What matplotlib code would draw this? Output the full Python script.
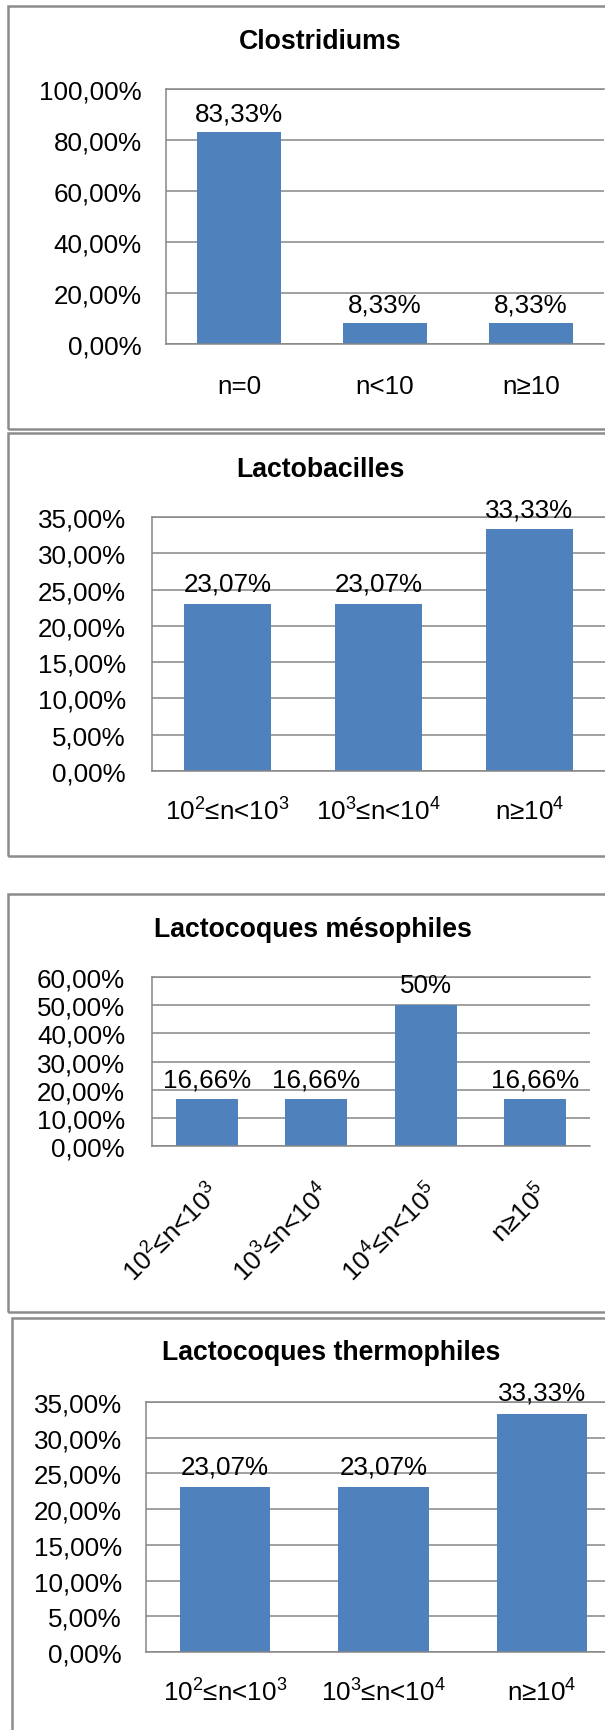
import matplotlib
matplotlib.use("Agg")
import matplotlib.pyplot as plt
from matplotlib.patches import Rectangle

plt.rcParams["font.family"] = ["Liberation Sans", "DejaVu Sans"]
plt.rcParams["mathtext.fontset"] = "custom"
plt.rcParams["mathtext.rm"] = "Liberation Sans"
plt.rcParams["mathtext.it"] = "Liberation Sans:italic"
plt.rcParams["mathtext.bf"] = "Liberation Sans:bold"
plt.rcParams["mathtext.default"] = "regular"

# ---- data -------------------------------------------------------------
clos_title = "Clostridiums"
clos_cats = ["n=0", "n<10", "n≥10"]
clos_vals = [83.33, 8.33, 8.33]
clos_yticks = [0, 20, 40, 60, 80, 100]

lacto_title = "Lactobacilles"
lacto_cats = [r"10$^{2}$≤n<10$^{3}$", r"10$^{3}$≤n<10$^{4}$", r"n≥10$^{4}$"]
lacto_vals = [23.07, 23.07, 33.33]
lacto_yticks = [0, 5, 10, 15, 20, 25, 30, 35]

meso_title = "Lactocoques mésophiles"
meso_cats = [r"10$^{2}$≤n<10$^{3}$", r"10$^{3}$≤n<10$^{4}$",
             r"10$^{4}$≤n<10$^{5}$", r"n≥10$^{5}$"]
meso_vals = [16.66, 16.66, 50, 16.66]
meso_yticks = [0, 10, 20, 30, 40, 50, 60]

thermo_title = "Lactocoques thermophiles"
thermo_cats = [r"10$^{2}$≤n<10$^{3}$", r"10$^{3}$≤n<10$^{4}$", r"n≥10$^{4}$"]
thermo_vals = [23.07, 23.07, 33.33]
thermo_yticks = [0, 5, 10, 15, 20, 25, 30, 35]

# ---- styling ----------------------------------------------------------
W, H = 605, 1731
DPI = 100
BAR = "#4f81bd"
GRID = "#868686"
FRAME = "#8c8c8c"
FS = 18.7
PT = 72.0 / DPI  # points per pixel


def pct_axis(v):
    return f"{v:.2f}".replace(".", ",") + "%"


def pct_label(v):
    if float(v).is_integer():
        return f"{int(v)}%"
    return f"{v:.2f}".replace(".", ",") + "%"


fig = plt.figure(figsize=(W / DPI, H / DPI), dpi=DPI)
fig.patch.set_facecolor("white")


def frame(x0, y0, x1, y1):
    fig.add_artist(Rectangle((x0 / W, 1 - y1 / H), (x1 - x0) / W, (y1 - y0) / H,
                             transform=fig.transFigure, fill=False,
                             ec=FRAME, lw=1.8, zorder=0))


def panel(title, cats, vals, yticks, box, border, title_xy,
          ypad, xpad, lab_off, rotate=False):
    left, top, right, bottom = box
    frame(*border)
    ax = fig.add_axes([left / W, 1 - bottom / H, (right - left) / W, (bottom - top) / H])
    x = range(len(cats))
    ax.bar(x, vals, width=0.57, color=BAR, zorder=2)
    ax.set_xlim(-0.5, len(cats) - 0.5)
    ax.set_ylim(0, yticks[-1])
    ax.set_yticks(yticks)
    ax.set_yticklabels([pct_axis(t) for t in yticks], fontsize=FS)
    ax.yaxis.grid(True, color=GRID, lw=1.1)
    ax.set_axisbelow(True)
    for s in ("left", "bottom", "top"):
        ax.spines[s].set_color(GRID)
        ax.spines[s].set_linewidth(1.1)
    ax.spines["right"].set_visible(False)
    ax.tick_params(axis="y", length=0, pad=ypad * PT)
    ax.set_xticks(list(x))
    if rotate:
        ax.set_xticklabels(cats, fontsize=FS, rotation=45, ha="right",
                           va="top", rotation_mode="anchor")
    else:
        ax.set_xticklabels(cats, fontsize=FS, va="center")
    ax.tick_params(axis="x", length=0, pad=xpad * PT)
    for xi, v in zip(x, vals):
        ax.annotate(pct_label(v), (xi, v), xytext=(0, lab_off * PT),
                    textcoords="offset points", ha="center", va="center",
                    fontsize=FS, annotation_clip=False, zorder=3)
    fig.text(title_xy[0] / W, 1 - title_xy[1] / H, title, ha="center",
             va="center", fontsize=19.2, fontweight="bold")
    return ax


panel(clos_title, clos_cats, clos_vals, clos_yticks,
      box=(166, 90, 604, 345), border=(8, 7, 660, 430), title_xy=(320, 42),
      ypad=24, xpad=42, lab_off=18)

panel(lacto_title, lacto_cats, lacto_vals, lacto_yticks,
      box=(152, 518, 605, 772), border=(8, 434, 660, 857), title_xy=(320, 470),
      ypad=26, xpad=40, lab_off=20)

panel(meso_title, meso_cats, meso_vals, meso_yticks,
      box=(152, 978, 590, 1147), border=(8, 895, 660, 1313), title_xy=(313, 930),
      ypad=27, xpad=33, lab_off=20, rotate=True)

panel(thermo_title, thermo_cats, thermo_vals, thermo_yticks,
      box=(146, 1403, 621, 1653), border=(12, 1319, 660, 1800), title_xy=(331, 1353),
      ypad=24, xpad=40, lab_off=21)

fig.savefig("out.png", dpi=DPI)
